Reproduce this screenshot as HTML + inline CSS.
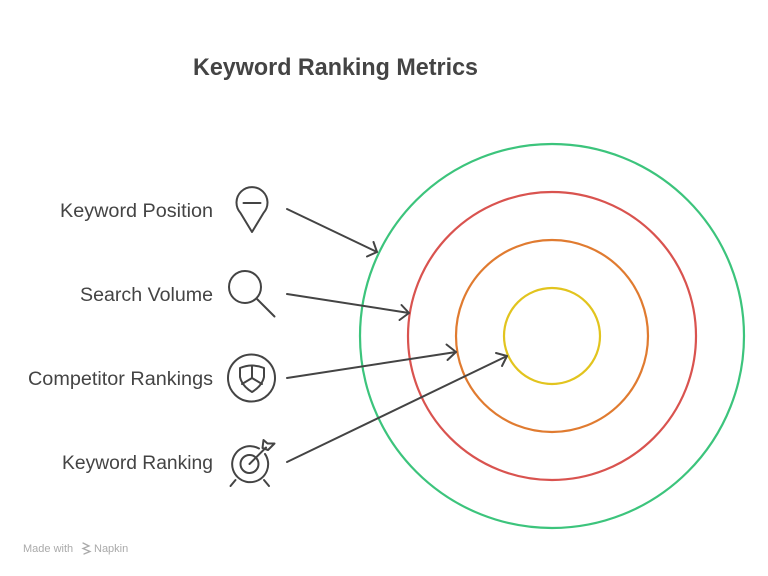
<!DOCTYPE html>
<html>
<head>
<meta charset="utf-8">
<style>
  html,body{margin:0;padding:0;background:#fff;}
  body{width:768px;height:576px;overflow:hidden;}
  svg{display:block;}
  text{font-family:"Liberation Sans",Arial,sans-serif;}
</style>
</head>
<body>
<svg width="768" height="576" viewBox="0 0 768 576" xmlns="http://www.w3.org/2000/svg">
  <rect width="768" height="576" fill="#fff"/>
  <!-- Title -->
  <text x="193" y="75" font-size="24" font-weight="bold" fill="#444" textLength="285" lengthAdjust="spacingAndGlyphs">Keyword Ranking Metrics</text>

  <!-- Concentric circles -->
  <g fill="none" stroke-width="2.2">
    <circle cx="552" cy="336" r="192" stroke="#3cc47c"/>
    <circle cx="552" cy="336" r="144" stroke="#d9534f"/>
    <circle cx="552" cy="336" r="96" stroke="#e07b30"/>
    <circle cx="552" cy="336" r="48" stroke="#e2c41e"/>
  </g>

  <!-- Labels -->
  <g font-size="19" fill="#444" text-anchor="end">
    <text x="213" y="217" textLength="153" lengthAdjust="spacingAndGlyphs">Keyword Position</text>
    <text x="213" y="301" textLength="133" lengthAdjust="spacingAndGlyphs">Search Volume</text>
    <text x="213" y="385" textLength="185" lengthAdjust="spacingAndGlyphs">Competitor Rankings</text>
    <text x="213" y="469" textLength="151" lengthAdjust="spacingAndGlyphs">Keyword Ranking</text>
  </g>

  <!-- Arrows -->
  <g stroke="#444" stroke-width="2" fill="none" stroke-linecap="round" stroke-linejoin="round">
    <line x1="287" y1="209" x2="377" y2="252"/>
    <polyline points="367,256.5 377,252 373.5,242"/>
    <line x1="287" y1="294" x2="409" y2="313"/>
    <polyline points="399.5,320 409,313 401.5,305"/>
    <line x1="287" y1="378" x2="456" y2="352"/>
    <polyline points="447.5,360 456,352 446.5,344.5"/>
    <line x1="287" y1="462" x2="507" y2="356"/>
    <polyline points="502,366 507,356 496,353"/>
  </g>

  <!-- Icons -->
  <g stroke="#444" stroke-width="2" fill="none" stroke-linecap="round" stroke-linejoin="round">
    <!-- Pin -->
    <path d="M252,232 L240.5,213 A15.5,15.5 0 1 1 263.5,213 Z"/>
    <line x1="243.5" y1="203" x2="260.5" y2="203"/>
    <!-- Magnifier -->
    <circle cx="245" cy="287" r="16"/>
    <line x1="256.5" y1="298.5" x2="274.5" y2="316.5"/>
    <!-- Shield in circle -->
    <circle cx="251.5" cy="378" r="23.5"/>
    <path d="M240,368 Q252,363 264,368 L264,377 Q262,386 252,392 Q242,386 240,377 Z"/>
    <path d="M252,366 L252,378 L242,384 M252,378 L262,384"/>
    <!-- Target -->
    <path d="M265,454 A18,18 0 1 1 259,448.5"/>
    <circle cx="249.5" cy="464" r="9"/>
    <line x1="249.5" y1="464" x2="266" y2="447.5"/>
    <path d="M262.5,448 L263.5,440 L267.5,443.5 L274.5,443.5 L268,450 Z"/>
    <line x1="235.5" y1="480" x2="230.5" y2="486"/>
    <line x1="264" y1="480" x2="269" y2="486"/>
  </g>

  <!-- Footer -->
  <text x="23" y="552" font-size="11" fill="#aaa">Made with</text>
  <g stroke="#aaa" stroke-width="1.3" fill="none" stroke-linecap="round">
    <path d="M83,543 L89,546 L83,548.5 L90,551.5 L84,554"/>
  </g>
  <text x="94" y="552" font-size="11" fill="#aaa">Napkin</text>
</svg>
</body>
</html>
